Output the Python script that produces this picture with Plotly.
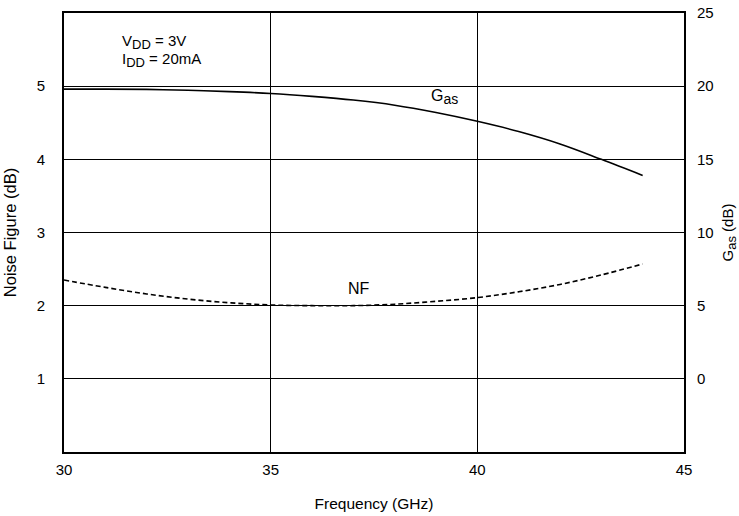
import plotly.graph_objects as go

freq = [30, 31, 32, 33, 34, 35, 36, 37, 38, 39, 40, 41, 42, 43, 44]
nf_db = [2.35, 2.25, 2.16, 2.09, 2.04, 2.01, 2.0, 2.0, 2.02, 2.06, 2.11, 2.19, 2.29, 2.42, 2.57]
gas_db = [19.8, 19.8, 19.78, 19.72, 19.63, 19.5, 19.3, 19.05, 18.7, 18.2, 17.6, 16.9, 16.05, 15.0, 13.9]

x_ticks = [30, 35, 40, 45]
nf_ticks = [1, 2, 3, 4, 5]
gas_ticks = [0, 5, 10, 15, 20, 25]

FONT = "Liberation Sans, Arial, Helvetica, sans-serif"


def sub(main, s, size):
    return f'{main}<sub><span style="font-size:{size}px">{s}</span></sub>'


fig = go.Figure()
fig.add_trace(go.Scatter(x=freq, y=gas_db, mode="lines", yaxis="y2",
                         line=dict(color="black", width=1.6, shape="spline"),
                         showlegend=False, hoverinfo="skip"))
fig.add_trace(go.Scatter(x=freq, y=nf_db, mode="lines", yaxis="y",
                         line=dict(color="black", width=1.6, dash="5px,3px", shape="spline"),
                         showlegend=False, hoverinfo="skip"))

fig.update_layout(
    width=739, height=516,
    margin=dict(l=64, r=55, t=13, b=64, autoexpand=False),
    paper_bgcolor="white", plot_bgcolor="white",
    font=dict(family=FONT, size=15, color="black"),
    xaxis=dict(range=[30, 45], tickvals=x_ticks, showgrid=True, gridcolor="black", gridwidth=1,
               showline=True, linecolor="black", linewidth=2, mirror=True, zeroline=False,
               ticks="", ticklabelstandoff=3, automargin=False, tickfont=dict(size=15),
               title=dict(text="Frequency (GHz)", font=dict(size=15.5), standoff=21)),
    yaxis=dict(range=[0, 6], tickvals=nf_ticks, showgrid=True, gridcolor="black", gridwidth=1,
               showline=True, linecolor="black", linewidth=2, mirror=False, zeroline=False,
               ticks="", ticklabelstandoff=14, automargin=False, tickfont=dict(size=15),
               title=dict(text="Noise Figure (dB)", font=dict(size=16.5), standoff=16)),
    yaxis2=dict(range=[-5, 25], tickvals=gas_ticks, overlaying="y", side="right", showgrid=False,
                showline=True, linecolor="black", linewidth=2, zeroline=False,
                ticks="", ticklabelstandoff=8, automargin=False, tickfont=dict(size=15),
                title=dict(text=sub("G", "as", 13) + " (dB)", font=dict(size=15), standoff=11)),
    annotations=[
        dict(x=31.35, y=5.6, xref="x", yref="y", text=sub("V", "DD", 13) + " = 3V", showarrow=False,
             xanchor="left", yanchor="middle", font=dict(size=15)),
        dict(x=31.35, y=5.36, xref="x", yref="y", text=sub("I", "DD", 13) + " = 20mA", showarrow=False,
             xanchor="left", yanchor="middle", font=dict(size=15)),
        dict(x=39.2, y=4.85, xref="x", yref="y", text=sub("G", "as", 14), showarrow=False,
             xanchor="center", yanchor="middle", font=dict(size=16)),
        dict(x=37.14, y=2.23, xref="x", yref="y", text="NF", showarrow=False,
             xanchor="center", yanchor="middle", font=dict(size=16)),
    ],
)

fig.write_html("out.html", config={"displayModeBar": False},
               post_script="document.body.style.margin='0';document.body.style.overflow='hidden';")
